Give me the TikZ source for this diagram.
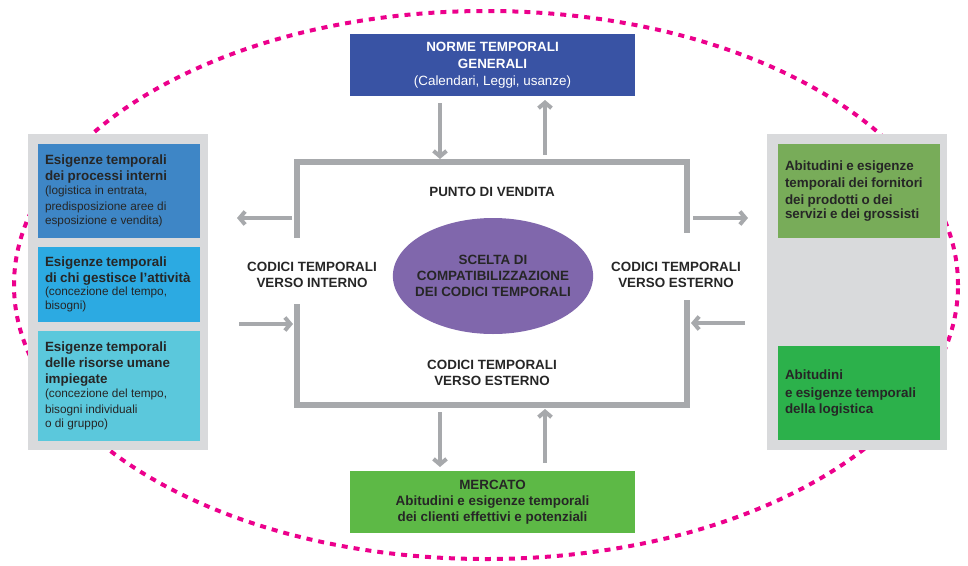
\documentclass[tikz,border=0pt]{standalone}
\usepackage{fontspec}
\setmainfont{Liberation Sans}
\usetikzlibrary{arrows.meta,calc,shapes.geometric}
\definecolor{dotpink}{HTML}{EC008C}
\definecolor{panelgray}{HTML}{D9DADC}
\definecolor{linegray}{HTML}{A7A9AC}
\definecolor{normeblue}{HTML}{3953A4}
\definecolor{mercgreen}{HTML}{5DB946}
\definecolor{lboxa}{HTML}{3E86C6}
\definecolor{lboxb}{HTML}{2CAAE2}
\definecolor{lboxc}{HTML}{5BC8DC}
\definecolor{rboxa}{HTML}{78AC59}
\definecolor{rboxb}{HTML}{2CB14B}
\definecolor{purp}{HTML}{8067AC}
\definecolor{txtdark}{HTML}{262626}
\newcommand\FtB{\fontsize{13.4}{16}\selectfont\bfseries}
\newcommand\FtR{\fontsize{11.8}{14.7}\selectfont\mdseries}
\newcommand\FtM{\fontsize{13.4}{17}\selectfont\mdseries}
\tikzset{
  panel/.style={fill=panelgray, draw=none, anchor=north west, inner sep=0pt, outer sep=0pt, minimum width=180pt, minimum height=316pt},
  sidebox/.style={draw=none, anchor=north west, inner xsep=7pt, inner ysep=0pt, outer sep=0pt, text width=148pt, align=left, text=txtdark},
  widebox/.style={draw=none, inner sep=0pt, outer sep=0pt, minimum width=285pt, minimum height=62pt, align=center, font=\FtB},
  lbl/.style={align=center, text=txtdark, inner sep=0pt, font=\FtB},
  frameline/.style={draw=linegray, line width=6pt, line join=miter},
  garr/.style={draw=linegray, line width=4pt, -{Straight Barb[length=5.5pt,width=13pt]}},
  dotted ring/.style={draw=dotpink, line width=4pt, dash pattern=on 6pt off 6pt}
}
\begin{document}
\begin{tikzpicture}[x=1pt,y=-1pt]
\useasboundingbox (0,0) rectangle (968,565);
% dotted ring
\draw[dotted ring] (486,285) ellipse [x radius=472pt, y radius=274pt];
% side panels
\node[panel] (lpanel) at (28,134) {};
\node[panel] (rpanel) at (767,134) {};
% left boxes
\node[sidebox, fill=lboxa, minimum height=94pt] (l1) at (38,144)
  {\FtB Esigenze temporali\\dei processi interni\\[-1pt]\FtR (logistica in entrata,\\[2pt]predisposizione aree di\\[2pt]esposizione e vendita)};
\node[sidebox, fill=lboxb, minimum height=75pt] (l2) at (38,247)
  {\FtB Esigenze temporali\\di chi gestisce l’attività\\[-1pt]\FtR (concezione del tempo,\\[2pt]bisogni)};
\node[sidebox, fill=lboxc, minimum height=110pt] (l3) at (38,331)
  {\FtB Esigenze temporali\\delle risorse umane\\impiegate\\[-1pt]\FtR (concezione del tempo,\\[2pt]bisogni individuali\\[2pt]o di gruppo)};
% right boxes
\node[sidebox, fill=rboxa, minimum height=94pt] (r1) at (778,144)
  {\FtB Abitudini e esigenze\\[0.7pt]temporali dei fornitori\\[0.7pt]dei prodotti o dei\\[0.7pt]servizi e dei grossisti};
\node[sidebox, fill=rboxb, minimum height=94pt] (r2) at (778,346)
  {\FtB Abitudini\\[1.8pt]e esigenze temporali\\[1.8pt]della logistica};
% top and bottom boxes
\node[widebox, fill=normeblue, text=white] (norme) at (492.5,65)
  {NORME TEMPORALI\\[1pt]GENERALI\\[1pt]{\FtM (Calendari, Leggi, usanze)}};
\node[widebox, fill=mercgreen, text=txtdark] (mercato) at (492.5,502)
  {MERCATO\\Abitudini e esigenze temporali\\dei clienti effettivi e potenziali};
% central frame
\node[draw=none, inner sep=0pt, outer sep=0pt, minimum width=390pt, minimum height=243pt] (frame) at (492,283.5) {};
\draw[frameline] (frame.north west |- 0,238) -- (frame.north west) -- (frame.north east) -- (frame.north east |- 0,233);
\draw[frameline] (frame.south west |- 0,304) -- (frame.south west) -- (frame.south east) -- (frame.south east |- 0,300);
% ellipse
\node[ellipse, fill=purp, minimum width=197pt, minimum height=116pt, inner xsep=-7pt, inner ysep=0pt, align=center, text=txtdark, font=\FtB] (scelta) at (493,276)
  {SCELTA DI\\COMPATIBILIZZAZIONE\\DEI CODICI TEMPORALI};
% labels
\node[lbl] (pv) at (492,192) {PUNTO DI VENDITA};
\node[lbl] (cin) at (312,275) {CODICI TEMPORALI\\VERSO INTERNO};
\node[lbl] (cest) at (676,275) {CODICI TEMPORALI\\VERSO ESTERNO};
\node[lbl] (cest2) at (492,373) {CODICI TEMPORALI\\VERSO ESTERNO};
% arrows
\draw[garr] ($(norme.south -| 440,0)+(0,7)$) -- ($(frame.north -| 440,0)+(0,-3)$);
\draw[garr] ($(frame.north -| 545,0)+(0,-7)$) -- ($(norme.south -| 545,0)+(0,4)$);
\draw[garr] ($(frame.south -| 440,0)+(0,7)$) -- ($(mercato.north -| 440,0)+(0,-4)$);
\draw[garr] ($(mercato.north -| 545,0)+(0,-8)$) -- ($(frame.south -| 545,0)+(0,4)$);
\draw[garr] ($(frame.west |- 0,218)+(-5,0)$) -- ($(lpanel.east |- 0,218)+(29,0)$);
\draw[garr] ($(lpanel.east |- 0,324)+(31,0)$) -- ($(frame.west |- 0,324)+(-4,0)$);
\draw[garr] ($(frame.east |- 0,218)+(6,0)$) -- ($(rpanel.west |- 0,218)+(-19,0)$);
\draw[garr] ($(rpanel.west |- 0,323)+(-22,0)$) -- ($(frame.east |- 0,323)+(4,0)$);
\end{tikzpicture}
\end{document}
